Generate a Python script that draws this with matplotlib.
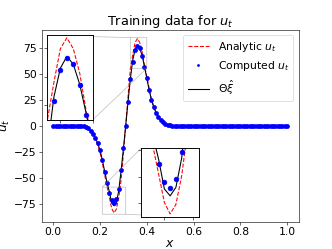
import numpy as np
import matplotlib.pyplot as plt

# grid of the training data
x = np.round(np.arange(0, 101) * 0.01, 2)

# values for x = 0.12 ... 0.50, zero elsewhere
ut_computed_mid = [-0.3, -0.7, -1.5, -2.8, -4.8, -7.8, -12.0, -17.0, -23.5, -33.5,
                   -44.8, -55.0, -65.2, -72.0, -74.2, -70.7, -60.7, -43.0, -22.0, 0.0,
                   22.6, 44.7, 61.4, 72.5, 76.7, 74.6, 67.3, 56.7, 45.5, 34.5,
                   24.5, 17.5, 12.0, 8.0, 5.0, 3.0, 1.6, 0.8, 0.3]
ut_analytic_mid = [-0.3, -0.8, -1.6, -3.0, -5.2, -8.4, -13.0, -18.5, -25.5, -36.0,
                   -47.5, -58.4, -69.0, -79.7, -84.0, -80.4, -69.7, -53.0, -28.0, 0.0,
                   28.0, 55.0, 68.0, 79.8, 83.6, 79.8, 71.2, 58.0, 47.5, 36.0,
                   25.5, 18.5, 13.0, 8.4, 5.2, 3.0, 1.6, 0.8, 0.3]
ut_model_mid = [-0.3, -0.7, -1.5, -2.8, -4.8, -7.8, -12.0, -17.0, -23.5, -33.0,
                -44.0, -54.5, -63.5, -74.6, -77.2, -74.0, -63.0, -44.0, -22.5, 0.0,
                23.0, 45.0, 62.9, 73.0, 77.1, 74.4, 67.3, 57.1, 45.5, 34.5,
                24.5, 17.5, 12.0, 8.0, 5.0, 3.0, 1.6, 0.8, 0.3]
ut_computed = np.array([0.0] * 12 + ut_computed_mid + [0.0] * 50)
ut_analytic = np.array([0.0] * 12 + ut_analytic_mid + [0.0] * 50)
ut_model = np.array([0.0] * 12 + ut_model_mid + [0.0] * 50)

fig, ax = plt.subplots(figsize=(6.4, 4.8), dpi=51.875)


def draw(a, ms=11):
    a.plot(x, ut_analytic, 'r--', lw=1.5, label=r'Analytic $u_t$', zorder=2)
    a.plot(x, ut_model, 'k-', lw=1.5, label=r'$\Theta\hat{\xi}$', zorder=3)
    a.plot(x, ut_computed, 'b.', ms=ms, label=r'Computed $u_t$', zorder=4)


draw(ax)
ax.set_title(r'Training data for $u_t$', fontsize=18)
ax.set_xlabel(r'$x$', fontsize=17, labelpad=1)
ax.set_ylabel(r'$u_t$', fontsize=17, labelpad=2)
ax.tick_params(labelsize=15)
h, l = ax.get_legend_handles_labels()
ax.legend([h[0], h[2], h[1]], [l[0], l[2], l[1]], loc='upper right', fontsize=15,
          markerscale=0.5)

# zoom on the peak
ins1 = ax.inset_axes([0.023, 0.531, 0.176, 0.441])
draw(ins1, ms=13)
ins1.set_xlim(0.33, 0.40)
ins1.set_ylim(55, 84.5)
ins1.set_xticks([0.35, 0.40])
ins1.set_yticks([60, 70, 80])
ins1.set_xticklabels([])
ins1.set_yticklabels([])
ax.indicate_inset_zoom(ins1, edgecolor='0.5')

# zoom on the trough
ins2 = ax.inset_axes([0.388, 0.022, 0.224, 0.362])
draw(ins2, ms=13)
ins2.set_xlim(0.21, 0.31)
ins2.set_ylim(-85.3, -59.2)
ins2.set_xticks([0.25, 0.30])
ins2.set_yticks([-80, -70, -60])
ins2.set_xticklabels([])
ins2.set_yticklabels([])
ax.indicate_inset_zoom(ins2, edgecolor='0.5')

for a in (ins1, ins2):
    for s in a.spines.values():
        s.set_linewidth(1.3)

fig.savefig('out.png', dpi=51.875)
